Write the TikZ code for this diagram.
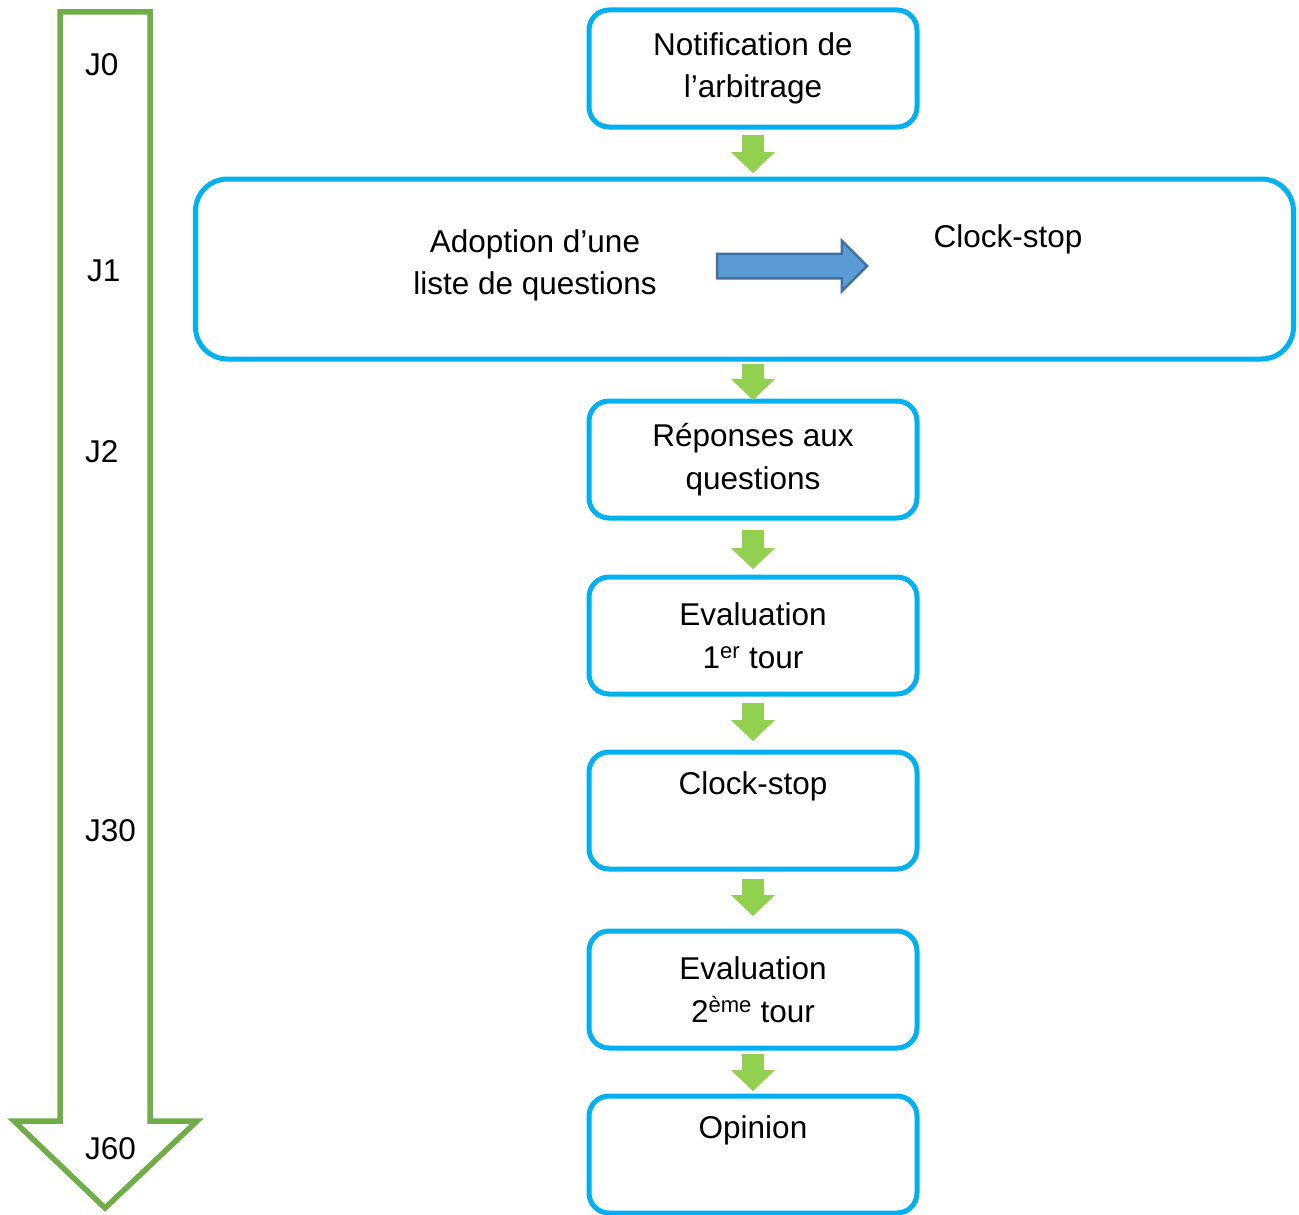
\documentclass[tikz,border=0pt]{standalone}
\usepackage{fontspec}
\setmainfont{Liberation Sans}
\usetikzlibrary{
  arrows.meta,
  calc,
  positioning,
  shapes.arrows
}
\definecolor{boxblue}{RGB}{0,176,240}
\definecolor{stepgreen}{RGB}{146,208,80}
\definecolor{timegreen}{RGB}{112,173,71}
\definecolor{arrowblue}{RGB}{91,155,213}
\definecolor{arrowedge}{RGB}{65,113,156}
\tikzset{
  stage/.style={
    draw=boxblue,
    line width=5pt,
    fill=white,
    rounded corners=20pt,
    align=center,
    inner sep=2pt,
    minimum width=328pt,
    minimum height=117pt
  },
  step arrow/.style={
    -{Triangle[length=21pt 0 0,width=44pt 0 0,line width'=0.1pt]},
    draw=stepgreen,
    line width=22pt,
    xshift=3pt
  },
  day/.style={anchor=west,inner sep=0pt},
  plain/.style={align=center}
}

\begin{document}
\begin{tikzpicture}[x=1pt,y=-1pt,font=\fontsize{31.5}{42.5}\selectfont]
  \useasboundingbox (0,0) rectangle (1299,1215);

  % time line
  \draw[timegreen,line width=5.5pt,line join=miter]
    (60,12) -- (150,12) -- (150,1121) -- (197,1121) -- (105,1208)
    -- (14,1121) -- (60,1121) -- cycle;
  \node[day] (j0) at (85,65) {J0};
  \node[day] (j1) at (87,271) {J1};
  \node[day] (j2) at (85,452) {J2};
  \node[day] (j30) at (85,831) {J30};
  \node[day] (j60) at (85,1149) {J60};

  % stages
  \node[stage] (notif) at (753,68.5) {Notification de\\l’arbitrage};
  \node[stage,minimum width=1098pt,minimum height=180pt,rounded corners=32pt,
    below=47pt of notif,xshift=-8.5pt] (big) {};
  \node[plain] (adopt) at ($(big.center)+(-209.5,-3.5)$) {Adoption d’une\\liste de questions};
  \node[plain] (halt) at ($(big.center)+(263.5,-30)$) {Clock-stop};
  \node[single arrow,draw=arrowedge,fill=arrowblue,line width=2.5pt,
    inner xsep=0pt,inner ysep=11pt,minimum height=150pt,
    single arrow head extend=13pt] (pause) at ($(big.center)+(41.5,-3)$) {};

  \node[stage,below=37pt of big,xshift=8.5pt] (answers) {Réponses aux\\questions};
  \node[stage,below=54pt of answers] (eval1) {Evaluation\\1\textsuperscript{er} tour};
  \node[stage,below=53pt of eval1] (stop) {Clock-stop\\\strut};
  \node[stage,below=57pt of stop] (eval2) {Evaluation\\2\textsuperscript{ème} tour};
  \node[stage,below=43pt of eval2] (opinion) {Opinion\\\strut};

  \draw[step arrow,shorten <=5.5pt,shorten >=3.5pt] (notif.south) -- (notif.south |- big.north);
  \draw[step arrow,shorten <=2.5pt,shorten >=-1.5pt] (answers.north |- big.south) -- (answers.north);
  \draw[step arrow,shorten <=9.5pt,shorten >=5.5pt] (answers) -- (eval1);
  \draw[step arrow,shorten <=6.5pt,shorten >=8.5pt] (eval1) -- (stop);
  \draw[step arrow,shorten <=7.5pt,shorten >=12.5pt] (stop) -- (eval2);
  \draw[step arrow,shorten <=3.5pt,shorten >=2.5pt] (eval2) -- (opinion);
\end{tikzpicture}
\end{document}
